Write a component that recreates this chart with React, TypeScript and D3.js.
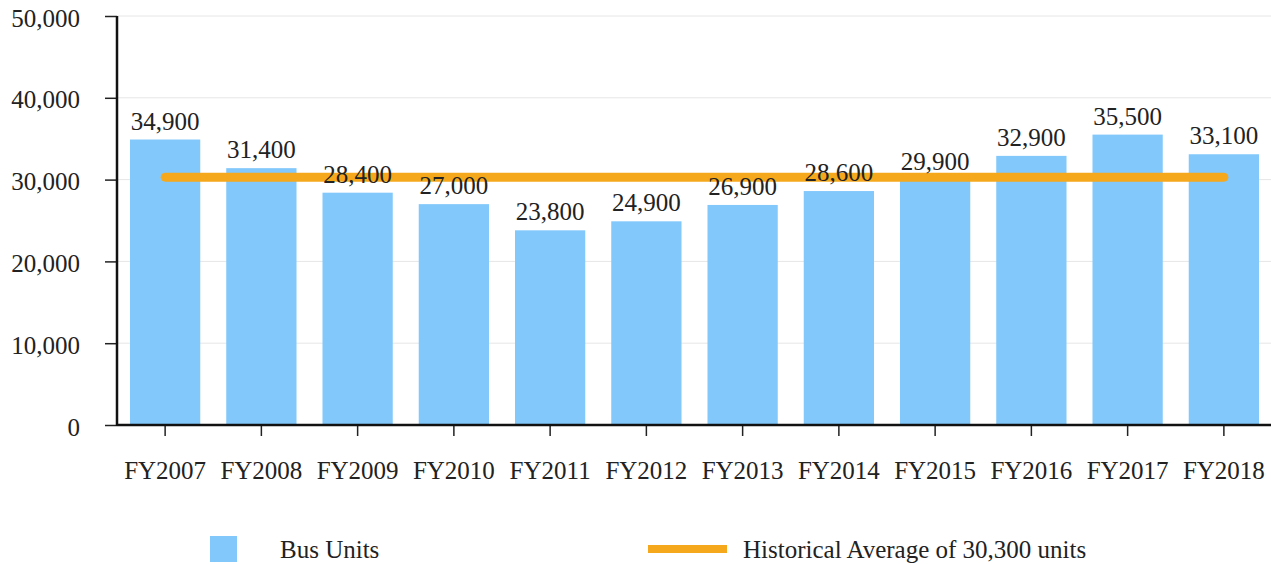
import * as React from "react";
import * as d3 from "d3";

const years = ["FY2007", "FY2008", "FY2009", "FY2010", "FY2011", "FY2012", "FY2013", "FY2014", "FY2015", "FY2016", "FY2017", "FY2018"];
const busUnits = [34900, 31400, 28400, 27000, 23800, 24900, 26900, 28600, 29900, 32900, 35500, 33100];
const historicalAverage = 30300;
const yTicks = [0, 10000, 20000, 30000, 40000, 50000];

const W = 1271;
const H = 564;
const margin = { left: 117, right: 0, top: 16, bottom: 139 };
const FONT = "Liberation Serif, Times New Roman, serif";

export default function App() {
  const ref = React.useRef<SVGSVGElement>(null);

  React.useEffect(() => {
    const svg = d3.select(ref.current);
    svg.selectAll("*").remove();

    const x = d3.scaleBand().domain(years).range([margin.left, W - margin.right + 1]).paddingInner(0.27).paddingOuter(0.135);
    const y = d3.scaleLinear().domain([0, 50000]).range([H - margin.bottom, margin.top]);
    const fmt = d3.format(",");

    // gridlines
    svg.append("g")
      .selectAll("line")
      .data(yTicks.filter(d => d > 0))
      .enter()
      .append("line")
      .attr("x1", margin.left)
      .attr("x2", W)
      .attr("y1", d => y(d))
      .attr("y2", d => y(d))
      .style("stroke", "#e6e6e6")
      .style("stroke-width", 1);

    // bars
    svg.append("g")
      .selectAll("rect")
      .data(busUnits)
      .enter()
      .append("rect")
      .attr("x", (d, i) => x(years[i])!)
      .attr("width", x.bandwidth())
      .attr("y", d => y(d))
      .attr("height", d => y(0) - y(d))
      .style("fill", "#82c8fb");

    // average line, center of first bar to center of last
    const avgLine = d3.line<number>()
      .x(d => x(years[d])! + x.bandwidth() / 2)
      .y(() => y(historicalAverage));
    svg.append("path")
      .attr("d", avgLine([0, years.length - 1]))
      .style("fill", "none")
      .style("stroke", "#f5a81c")
      .style("stroke-width", 9)
      .style("stroke-linecap", "round");

    // value labels
    svg.append("g")
      .selectAll("text")
      .data(busUnits)
      .enter()
      .append("text")
      .attr("x", (d, i) => x(years[i])! + x.bandwidth() / 2)
      .attr("y", d => y(d) - 10)
      .attr("text-anchor", "middle")
      .style("font-family", FONT)
      .style("font-size", "25px")
      .attr("fill", "#222")
      .text(d => fmt(d));

    // y axis
    const yAxis = d3.axisLeft(y).tickValues(yTicks).tickFormat(d => fmt(d as number)).tickSize(12).tickPadding(25);
    const gy = svg.append("g").attr("transform", `translate(${margin.left},0)`).call(yAxis);
    gy.select(".domain").remove();
    gy.selectAll(".tick line").style("stroke", "#222").style("stroke-width", 1.5);
    gy.selectAll(".tick text").attr("dy", "0.4em").attr("fill", "#222")
      .style("font-family", FONT).style("font-size", "25px");
    svg.append("line")
      .attr("x1", margin.left).attr("x2", margin.left)
      .attr("y1", y(50000)).attr("y2", y(0) + 1)
      .style("stroke", "#111").style("stroke-width", 2.5);

    // x axis
    const xAxis = d3.axisBottom(x).tickSize(11).tickPadding(25);
    const gx = svg.append("g").attr("transform", `translate(0,${y(0)})`).call(xAxis);
    gx.select(".domain").remove();
    gx.selectAll(".tick line").style("stroke", "#222").style("stroke-width", 1.5);
    gx.selectAll(".tick text").attr("fill", "#222")
      .style("font-family", FONT).style("font-size", "25px");
    svg.append("line")
      .attr("x1", margin.left).attr("x2", W)
      .attr("y1", y(0)).attr("y2", y(0))
      .style("stroke", "#111").style("stroke-width", 2.5);

    // legend
    const legend = svg.append("g").attr("transform", "translate(0,549)")
      .style("font-family", FONT).style("font-size", "25px").attr("fill", "#222");
    legend.append("rect")
      .attr("x", 210).attr("y", -13).attr("width", 27).attr("height", 26)
      .style("fill", "#82c8fb");
    legend.append("text")
      .attr("x", 280).attr("y", 9)
      .text("Bus Units");
    legend.append("line")
      .attr("x1", 648).attr("x2", 727).attr("y1", 0).attr("y2", 0)
      .style("stroke", "#f5a81c").style("stroke-width", 8);
    legend.append("text")
      .attr("x", 743).attr("y", 9)
      .text("Historical Average of 30,300 units");
  }, []);

  return (
    <svg ref={ref} width={W} height={H} style={{ position: "absolute", left: 0, top: 0, background: "#fff" }} />
  );
}
